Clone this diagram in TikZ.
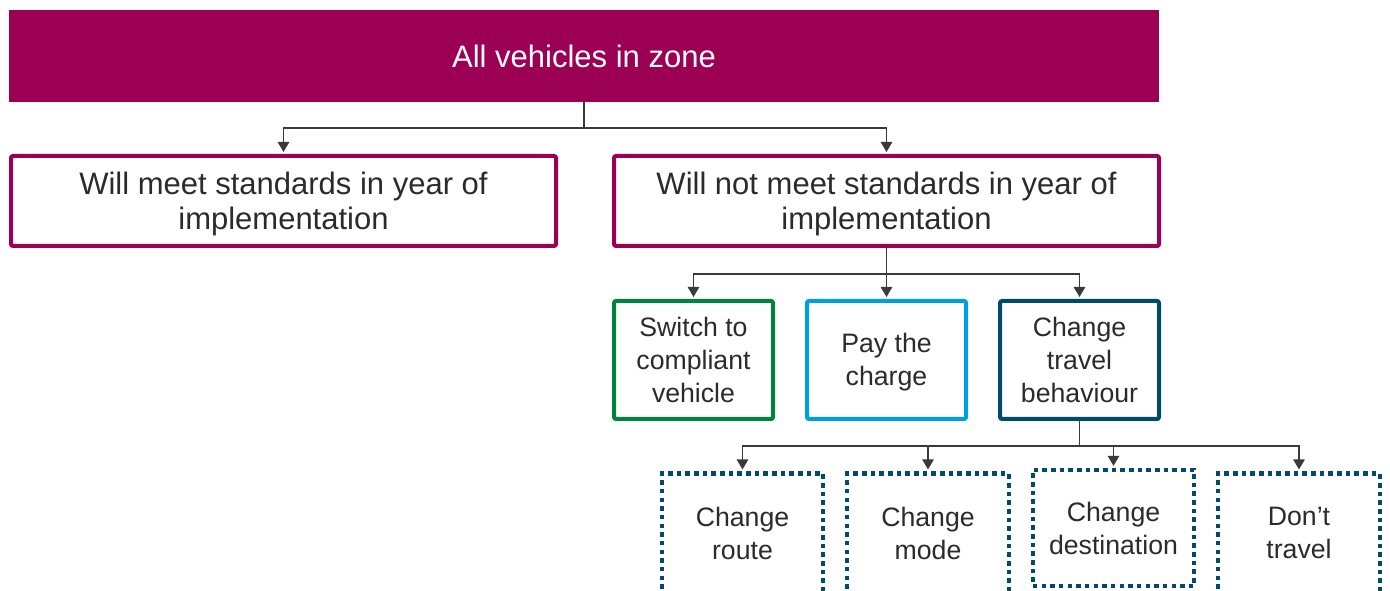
\documentclass[tikz,border=0pt]{standalone}
\usepackage{fontspec}
\setmainfont{Liberation Sans}
\usetikzlibrary{arrows.meta}

\definecolor{plum}{HTML}{9B0055}
\definecolor{leaf}{HTML}{00843D}
\definecolor{skyblue}{HTML}{00A0DF}
\definecolor{navy}{HTML}{004B6C}
\definecolor{ink}{HTML}{2B2B2B}
\definecolor{linkgrey}{HTML}{3A3A3A}

% pushes the first line of a two-line label slightly down
\newcommand{\toppad}{\rule{0pt}{21.5pt}}
% lifts a label inside a box that runs off the lower edge
\newcommand{\lowpad}{\rule[-8pt]{0pt}{8pt}}

\begin{document}
\begin{tikzpicture}[x=0.75pt,y=-0.75pt,
  headbar/.style={fill=plum, minimum width=862.5pt, minimum height=69pt,
    inner sep=0pt, text=white, font=\fontsize{23.25}{28}\selectfont},
  groupbox/.style={draw=plum, line width=3pt, fill=white,
    minimum width=408.75pt, minimum height=67.5pt, rounded corners=1.5pt,
    align=center, text=ink, inner sep=0pt,
    font=\fontsize{23.25}{26.25}\selectfont},
  optbox/.style={line width=3pt, fill=white,
    minimum width=119.25pt, minimum height=88.5pt, rounded corners=1.5pt,
    align=center, text=ink, inner sep=0pt,
    font=\fontsize{20}{24.75}\selectfont},
  subbox/.style={draw=navy, line width=3.2pt, dash pattern=on 3.4pt off 3.1pt,
    fill=white, minimum width=121pt, minimum height=87pt,
    align=center, text=ink, inner sep=0pt,
    font=\fontsize{20}{24.75}\selectfont},
  tallsubbox/.style={subbox, minimum height=97.5pt},
  link/.style={draw=linkgrey, line width=1.3pt},
  arrowlink/.style={link, -{Triangle[width=8.5pt,length=7.5pt]}, shorten >=1.5pt}
]
\clip (0,0) rectangle (1390,591);
\fill[white] (0,0) rectangle (1390,591);

% top level
\node[headbar] (all) at (584,56) {All vehicles in zone};

% compliance split
\node[groupbox] (meet) at (283.5,201) {\toppad Will meet standards in year of\\implementation};
\node[groupbox] (notmeet) at (886.5,201) {\toppad Will not meet standards in year of\\implementation};

% responses of non-compliant vehicles
\node[optbox, draw=leaf] (switch) at (693.5,360) {Switch to\\compliant\\vehicle};
\node[optbox, draw=skyblue] (pay) at (886.5,360) {\rule{0pt}{17pt}Pay the\\charge};
\node[optbox, draw=navy] (behave) at (1079.5,360) {Change\\travel\\behaviour};

% behavioural changes
\node[tallsubbox] (route) at (742.5,538.6) {Change\\route\lowpad};
\node[tallsubbox] (mode) at (928,538.6) {Change\\mode\lowpad};
\node[subbox] (dest) at (1113.5,528) {Change\\destination};
\node[tallsubbox] (stay) at (1299,538.6) {Don’t\\travel\lowpad};

% junction points of the tree
\coordinate (j1) at (584,128);
\coordinate (j2) at (886.5,274);
\coordinate (j3) at (1079.5,446);

\draw[link] (all.south) -- (j1);
\draw[arrowlink] (j1) -| (meet.north);
\draw[arrowlink] (j1) -| (notmeet.north);

\draw[link] (notmeet.south) -- (j2);
\draw[arrowlink] (j2) -| (switch.north);
\draw[arrowlink] (j2) -- (pay.north);
\draw[arrowlink] (j2) -| (behave.north);

\draw[link] (behave.south) -- (j3);
\draw[arrowlink] (j3) -| (route.north);
\draw[arrowlink] (j3) -| (mode.north);
\draw[arrowlink] (j3) -| (dest.north);
\draw[arrowlink] (j3) -| (stay.north);
\end{tikzpicture}
\end{document}
